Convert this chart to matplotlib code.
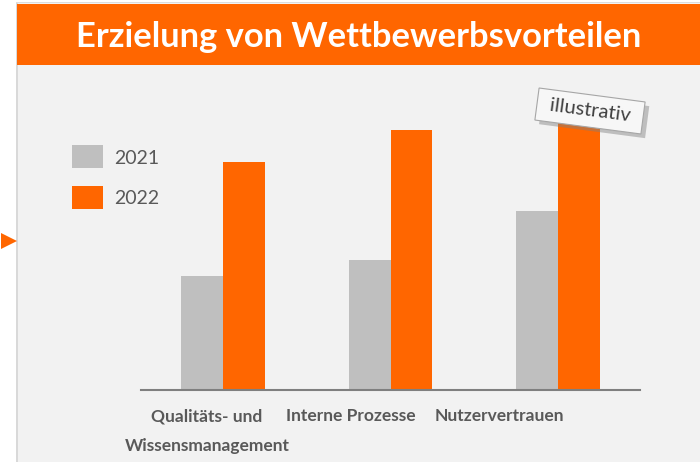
import numpy as np
import matplotlib
matplotlib.use('Agg')
import matplotlib.pyplot as plt
from matplotlib.patches import Rectangle, Polygon
import matplotlib.patheffects as pe

plt.rcParams['font.family'] = ['Lato', 'DejaVu Sans']

title = 'Erzielung von Wettbewerbsvorteilen'
categories = ['Qualitäts- und\nWissensmanagement', 'Interne Prozesse', 'Nutzervertrauen']
years = ['2021', '2022']
values_2021 = [114, 130, 179]
values_2022 = [228, 260, 278]

ORANGE = '#FF6600'
GREY = '#BFBFBF'
TEXT = '#595959'

W, H = 700, 462
fig = plt.figure(figsize=(7, 4.62), dpi=100, facecolor='white')

def fx(px):
    return px / W

def fy(py):
    return 1 - py / H

# panel background, frame line and banner
fig.patches.append(Rectangle((fx(17), 0), 1 - fx(17), fy(3), transform=fig.transFigure,
                             facecolor='#F2F2F2', edgecolor='none', zorder=0))
fig.patches.append(Rectangle((fx(16), 0), fx(1.5), fy(3), transform=fig.transFigure,
                             facecolor='#D9D9D9', edgecolor='none', zorder=1))
fig.patches.append(Rectangle((fx(16), fy(3)), 1 - fx(16), 1.2 / H, transform=fig.transFigure,
                             facecolor='#DDDDDD', edgecolor='none', zorder=1))
fig.patches.append(Rectangle((fx(17), fy(65)), 1 - fx(17), 61 / H, transform=fig.transFigure,
                             facecolor=ORANGE, edgecolor='none', zorder=1))
fig.text(fx(359), fy(37), title, color='white', fontsize=24.8, fontweight='bold',
         ha='center', va='center', zorder=2)

# arrow marker on the left edge
fig.patches.append(Polygon([(fx(1), fy(233)), (fx(17), fy(241)), (fx(1), fy(249))],
                           closed=True, transform=fig.transFigure, facecolor=ORANGE,
                           edgecolor='none', zorder=2))

ax = fig.add_axes([fx(141), fy(390), fx(640) - fx(141), (390 - 65) / H], zorder=3)
ax.set_facecolor('none')
x = np.arange(len(categories))
bw = 0.25
ax.bar(x - bw / 2, values_2021, width=bw, color=GREY, zorder=2)
ax.bar(x + bw / 2, values_2022, width=bw, color=ORANGE, zorder=2)
ax.set_xlim(-0.49, 2.49)
ax.set_ylim(0, 325)
for s in ['top', 'right', 'left']:
    ax.spines[s].set_visible(False)
ax.spines['bottom'].set_color('#7F7F7F')
ax.spines['bottom'].set_linewidth(1.5)
ax.set_yticks([])
ax.set_xticks([-0.096, 0.764, 1.648])
ax.set_xticklabels(categories, fontsize=12.5, fontweight='bold', color=TEXT,
                   linespacing=2.05, va='top')
ax.tick_params(axis='x', length=0, pad=13)

# legend
colors = [GREY, ORANGE]
for i, (yr, c) in enumerate(zip(years, colors)):
    top = 145 + i * 41
    fig.patches.append(Rectangle((fx(72), fy(top + 23)), fx(31), 23 / H,
                                 transform=fig.transFigure, facecolor=c,
                                 edgecolor='none', zorder=2))
    fig.text(fx(114), fy(top + 13), yr, fontsize=14, color=TEXT,
             ha='left', va='center', zorder=2)

# "illustrativ" tag with drop shadow
t = fig.text(fx(590), fy(111), ' illustrativ ', fontsize=14.5, color='#404040',
             rotation=-7.5, ha='center', va='center', rotation_mode='anchor', zorder=5,
             bbox=dict(boxstyle='square,pad=0.38', facecolor='#F7F7F7',
                       edgecolor='#A6A6A6', linewidth=0.8))
t.get_bbox_patch().set_path_effects([
    pe.SimplePatchShadow(offset=(3, -3), shadow_rgbFace='#7F7F7F', alpha=0.45),
    pe.Normal()])

fig.savefig('out.png', dpi=100, facecolor=fig.get_facecolor())
